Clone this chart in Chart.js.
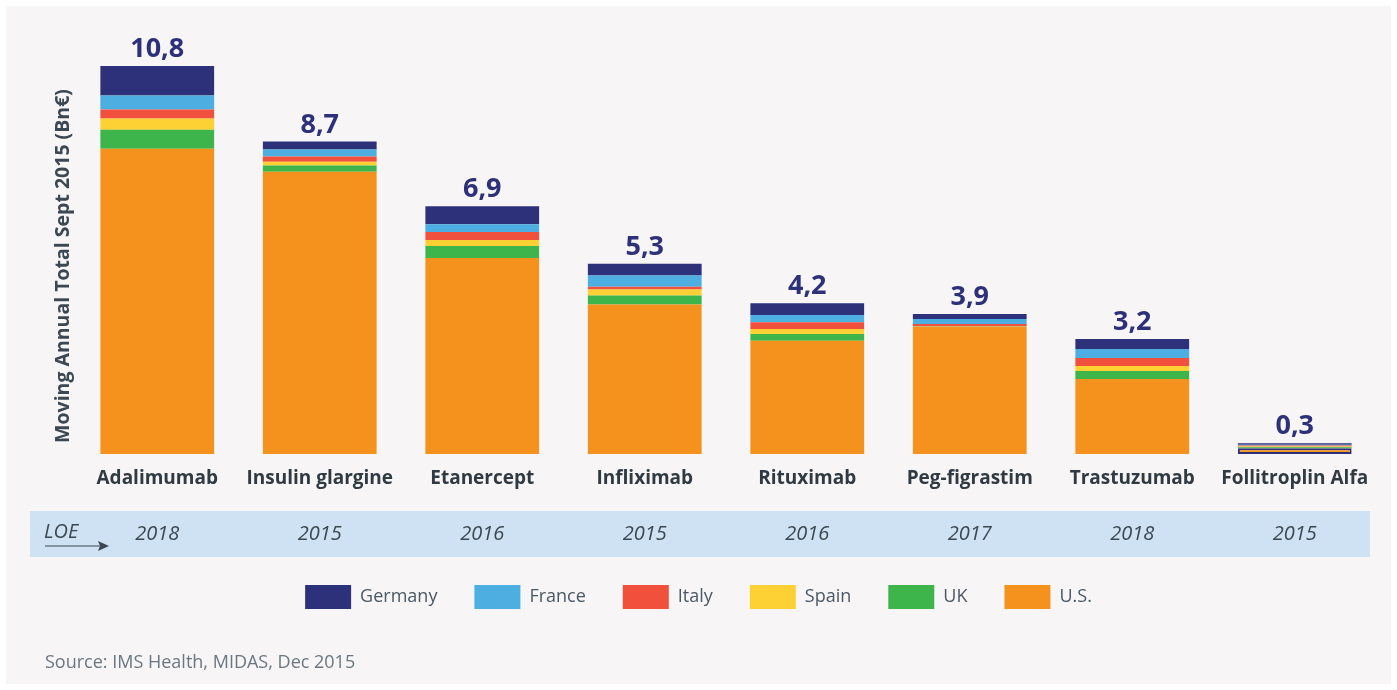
<!DOCTYPE html>
<html>
<head>
<meta charset="utf-8">
<script src="https://cdn.jsdelivr.net/npm/chart.js@4/dist/chart.umd.min.js"></script>
<style>
  html, body { margin: 0; padding: 0; background: #ffffff; }
  #wrap { width: 1397px; height: 690px; }
</style>
</head>
<body>
<div id="wrap"><canvas id="chart" width="1397" height="690"></canvas></div>
<script>
const products = ['Adalimumab', 'Insulin glargine', 'Etanercept', 'Infliximab', 'Rituximab', 'Peg-figrastim', 'Trastuzumab', 'Follitroplin Alfa'];
const loeYears = ['2018', '2015', '2016', '2015', '2016', '2017', '2018', '2015'];

// Bn€ per country
const germany = [0.82, 0.22, 0.50, 0.33, 0.33, 0.14, 0.28, 0.04];
const france  = [0.39, 0.20, 0.22, 0.31, 0.20, 0.14, 0.25, 0.02];
const italy   = [0.25, 0.14, 0.22, 0.08, 0.19, 0.06, 0.22, 0.03];
const spain   = [0.31, 0.11, 0.17, 0.17, 0.14, 0.01, 0.14, 0.02];
const uk      = [0.53, 0.17, 0.33, 0.25, 0.19, 0.01, 0.22, 0.03];
const us      = [8.50, 7.86, 5.46, 4.16, 3.15, 3.54, 2.09, 0.16];

const NAVY = '#2d3179';
const TEXT = '#3b4852';
const FONT = '"Open Sans", sans-serif';

function bar(label, data, color) {
  return { label, data, backgroundColor: color, borderWidth: 0 };
}

const usSet = bar('U.S.', us, '#f5921e');
// the smallest bar has an outline in the original
usSet.borderColor = NAVY;
usSet.borderWidth = ctx => ctx.dataIndex === 7 ? 2 : 0;
usSet.borderSkipped = false;

// bottom-to-top stacking order; legend shown reversed
const datasets = [
  usSet,
  bar('UK', uk, '#3db54a'),
  bar('Spain', spain, '#fdd033'),
  bar('Italy', italy, '#f0503c'),
  bar('France', france, '#4daee2'),
  bar('Germany', germany, NAVY),
];

// invisible side axes just reserve room around the plot
const spacer = w => ({
  display: true,
  ticks: { display: false },
  grid: { display: false },
  border: { display: false },
  afterFit(s) { s.width = w; }
});

const extras = {
  id: 'extras',
  beforeDraw(chart) {
    const { ctx } = chart;
    ctx.save();
    ctx.fillStyle = '#f7f5f6';
    ctx.fillRect(6, 6, 1385, 678);
    // LOE band sits under the legend/labels
    ctx.fillStyle = '#cfe2f3';
    ctx.fillRect(30, 511, 1340, 46);
    ctx.restore();
  },
  afterDatasetsDraw(chart) {
    const { ctx, scales: { x, y } } = chart;
    ctx.save();

    // totals above bars
    ctx.fillStyle = NAVY;
    ctx.font = 'bold 27px ' + FONT;
    ctx.textAlign = 'center';
    ctx.textBaseline = 'alphabetic';
    products.forEach((p, i) => {
      const total = chart.data.datasets.reduce((s, d) => s + d.data[i], 0);
      ctx.fillText(total.toFixed(1).replace('.', ','), x.getPixelForValue(i), y.getPixelForValue(total) - 9);
    });

    // y axis title
    ctx.save();
    ctx.translate(63, 266);
    ctx.rotate(-Math.PI / 2);
    ctx.fillStyle = TEXT;
    ctx.font = 'bold 19.5px ' + FONT;
    ctx.textBaseline = 'middle';
    ctx.fillText('Moving Annual Total Sept 2015 (Bn€)', 0, 0);
    ctx.restore();

    // LOE row
    ctx.fillStyle = TEXT;
    ctx.font = 'italic 20px ' + FONT;
    ctx.textBaseline = 'middle';
    ctx.textAlign = 'center';
    loeYears.forEach((yr, i) => ctx.fillText(yr, x.getPixelForValue(i), 534));
    ctx.textAlign = 'left';
    ctx.fillText('LOE', 44, 532);
    ctx.strokeStyle = TEXT;
    ctx.lineWidth = 1.2;
    ctx.beginPath();
    ctx.moveTo(45, 546);
    ctx.lineTo(106, 546);
    ctx.stroke();
    ctx.beginPath();
    ctx.moveTo(109, 546);
    ctx.lineTo(98, 541);
    ctx.lineTo(100, 546);
    ctx.lineTo(98, 551);
    ctx.closePath();
    ctx.fill();

    // source
    ctx.fillStyle = '#6b7780';
    ctx.font = '18px ' + FONT;
    ctx.fillText('Source: IMS Health, MIDAS, Dec 2015', 45, 663);
    ctx.restore();
  }
};

new Chart(document.getElementById('chart'), {
  type: 'bar',
  data: { labels: products, datasets },
  options: {
    responsive: false,
    animation: false,
    layout: { padding: { top: 23, left: 0, right: 0, bottom: 71 } },
    datasets: { bar: { barPercentage: 0.7, categoryPercentage: 1 } },
    scales: {
      x: {
        stacked: true,
        grid: { display: false, drawTicks: false },
        border: { display: false },
        ticks: { color: '#2f3a42', font: { family: FONT, size: 19, weight: 'bold' }, padding: 13 },
        afterFit(scale) { scale.height = 94; }
      },
      y: Object.assign(spacer(76), { stacked: true, min: 0, max: 12 }),
      y2: Object.assign(spacer(21), { position: 'right' })
    },
    plugins: {
      legend: {
        position: 'bottom',
        reverse: true,
        labels: {
          boxWidth: 46, boxHeight: 24, padding: 37,
          color: '#4a5865', font: { family: FONT, size: 18 }
        }
      },
      tooltip: { enabled: false }
    }
  },
  plugins: [extras]
});
</script>
</body>
</html>
